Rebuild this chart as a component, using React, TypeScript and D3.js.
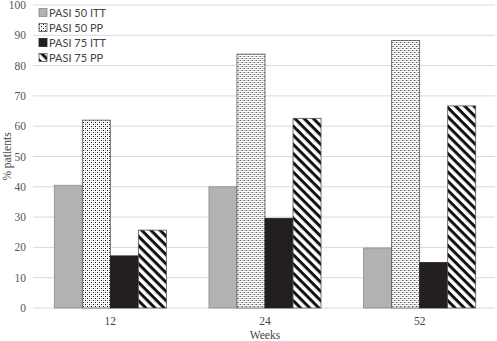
import React from "react";
import * as d3 from "d3";

const categories = ["12", "24", "52"];
const seriesNames = ["PASI 50 ITT", "PASI 50 PP", "PASI 75 ITT", "PASI 75 PP"];
const pasi50itt = [40.5, 40, 19.8];
const pasi50pp = [62, 83.8, 88.3];
const pasi75itt = [17.2, 29.6, 15];
const pasi75pp = [25.7, 62.6, 66.7];
const yTicks = [0, 10, 20, 30, 40, 50, 60, 70, 80, 90, 100];

const seriesValues = [pasi50itt, pasi50pp, pasi75itt, pasi75pp];
const fills = ["#b1b2b4", "url(#dots)", "#231f20", "url(#hatch)"];
const strokes = ["#8a8a8a", "#555", "#231f20", "#555"];

export default function App() {
  const W = 497, H = 341;
  const left = 33, right = 497, top = 5, bottom = 308;
  const x = d3.scaleBand().domain(categories).range([left, right]).paddingInner(0).paddingOuter(0);
  const inner = d3.scaleBand().domain(seriesNames).range([0, x.bandwidth()]).paddingOuter(0.76).paddingInner(0);
  const y = d3.scaleLinear().domain([0, 100]).range([bottom, top]);
  const serif = "'Liberation Serif', 'Times New Roman', serif";
  const sans = "Lato, 'Liberation Sans', sans-serif";
  return (
    <svg width={W} height={H} style={{ position: "absolute", left: 0, top: 0 }}>
      <defs>
        <pattern id="dots" width="4" height="4" patternUnits="userSpaceOnUse">
          <rect width="4" height="4" fill="#fff" />
          <rect x="0" y="0" width="1" height="1" fill="#111" />
          <rect x="2" y="2" width="1" height="1" fill="#111" />
          <rect x="2" y="0" width="1" height="1" fill="#bbb" />
          <rect x="0" y="2" width="1" height="1" fill="#bbb" />
        </pattern>
        <pattern id="hatch" width="6.5" height="6.5" patternUnits="userSpaceOnUse" patternTransform="rotate(45)">
          <rect width="6.5" height="6.5" fill="#fff" />
          <rect x="0" y="0" width="6.5" height="3" fill="#111" />
        </pattern>
      </defs>
      {yTicks.map((t) => (
        <g key={t}>
          <line x1={left} x2={right - 2} y1={y(t)} y2={y(t)} stroke="#d9d9d9" strokeWidth={1} />
          <text x={26} y={y(t) + 4} textAnchor="end" fontFamily={serif} fontSize={11.5} fill="#555">{t}</text>
        </g>
      ))}
      {categories.map((c, i) => (
        <g key={c} transform={`translate(${x(c)},0)`}>
          {seriesNames.map((s, j) => (
            <rect key={s} x={inner(s)!} width={inner.bandwidth()} y={y(seriesValues[j][i])}
              height={y(0) - y(seriesValues[j][i])} fill={fills[j]} stroke={strokes[j]} strokeWidth={0.8} />
          ))}
          <text x={x.bandwidth() / 2} y={325} textAnchor="middle" fontFamily={serif} fontSize={11.5} fill="#444">{c}</text>
        </g>
      ))}
      <text x={265} y={339} textAnchor="middle" fontFamily={serif} fontSize={11.5} fill="#444">Weeks</text>
      <text transform={`translate(11,${(top + bottom) / 2}) rotate(-90)`} textAnchor="middle" fontFamily={serif} fontSize={11.5} fill="#444">% patients</text>
      {seriesNames.map((s, j) => (
        <g key={s} transform={`translate(39,${13 + j * 15})`}>
          <rect x={0} y={-4.5} width={8} height={8} fill={fills[j]} stroke={strokes[j]} strokeWidth={0.8} />
          <text x={10} y={4} fontFamily={sans} fontSize={11} fill="#444">{s}</text>
        </g>
      ))}
    </svg>
  );
}
